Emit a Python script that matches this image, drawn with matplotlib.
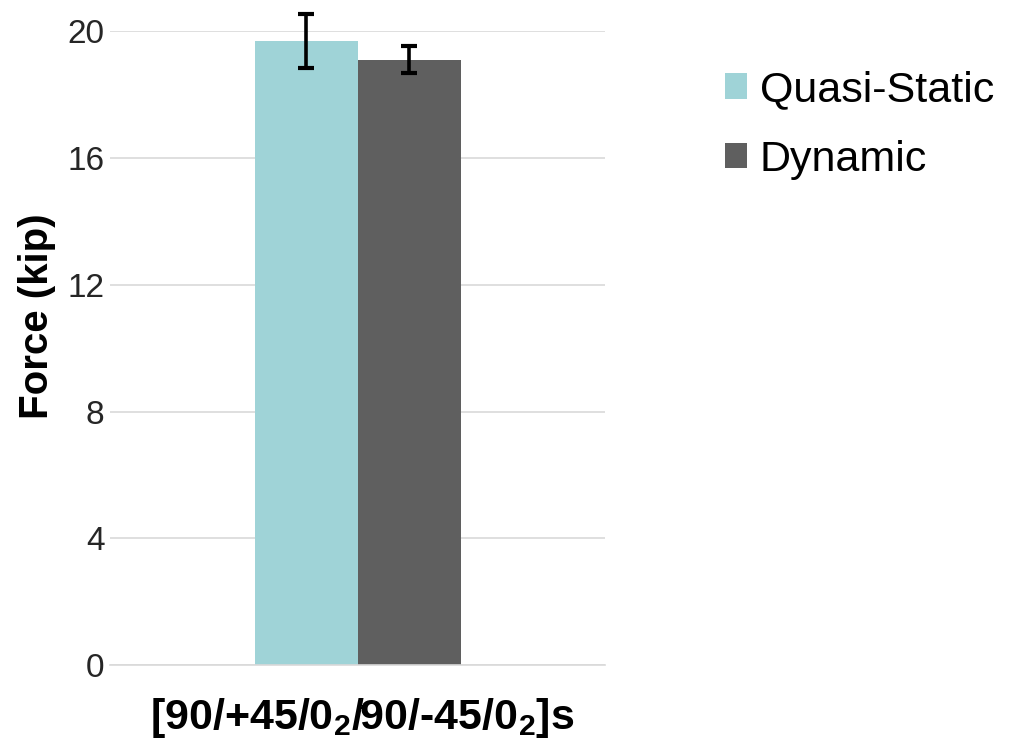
import matplotlib
matplotlib.use("Agg")
import matplotlib.pyplot as plt
import numpy as np

plt.rcParams['font.family'] = ['Liberation Sans', 'DejaVu Sans']
plt.rcParams['mathtext.fontset'] = 'custom'
plt.rcParams['mathtext.rm'] = 'Liberation Sans'
plt.rcParams['mathtext.bf'] = 'Liberation Sans:bold'
plt.rcParams['mathtext.it'] = 'Liberation Sans:italic'

TEAL = "#9fd3d7"
DARK = "#5f5f5f"
GRID = "#d9d9d9"
TEXT = "#262626"

categories = [r'[90/+45/0$_\mathbf{2}$/90/-45/0$_\mathbf{2}$]s']
quasi_static = [19.7]
quasi_err = [0.85]
dynamic = [19.1]
dynamic_err = [0.43]
yticks = [0, 4, 8, 12, 16, 20]

fig = plt.figure(figsize=(10.19, 7.40), dpi=100)
ax = fig.add_axes([0.108, 0.101, 0.486, 0.857])

x = np.arange(len(categories))
w = 0.208
err_kw = dict(ecolor="black", elinewidth=2.6, capsize=5.5, capthick=3.0)
b1 = ax.bar(x - w / 2, quasi_static, w, yerr=quasi_err, color=TEAL,
            label="Quasi-Static", error_kw=err_kw, zorder=2)
b2 = ax.bar(x + w / 2, dynamic, w, yerr=dynamic_err, color=DARK,
            label="Dynamic", error_kw=err_kw, zorder=2)
# error bars poke above the 20 line, like in the original
for eb in (b1.errorbar, b2.errorbar):
    for ln in list(eb.lines[1]) + list(eb.lines[2]):
        ln.set_clip_on(False)

ax.set_xlim(-0.5, 0.5)
ax.set_ylim(0, 20)
ax.set_yticks(yticks)
ax.set_xticks(x)
ax.set_xticklabels([])
ax.yaxis.grid(True, color=GRID, linewidth=1.2)
ax.set_axisbelow(True)
for s in ("top", "right", "left"):
    ax.spines[s].set_visible(False)
ax.spines["bottom"].set_color(GRID)
ax.spines["bottom"].set_linewidth(1.2)
ax.tick_params(axis="both", length=0, labelsize=24, colors=TEXT, pad=4)

ax.set_xlabel(categories[0], fontsize=31, fontweight="bold")
ax.xaxis.set_label_coords(0.51, -0.048)
ax.set_ylabel("Force (kip)", fontsize=29, fontweight="bold")
ax.yaxis.set_label_coords(-0.11, 0.55)

fig.legend(loc="upper left", bbox_to_anchor=(0.711, 0.905), frameon=False,
           fontsize=31, handlelength=0.52, handleheight=0.52,
           handletextpad=0.3, labelspacing=0.68, borderpad=0, borderaxespad=0)

fig.savefig("out.png", dpi=100)
